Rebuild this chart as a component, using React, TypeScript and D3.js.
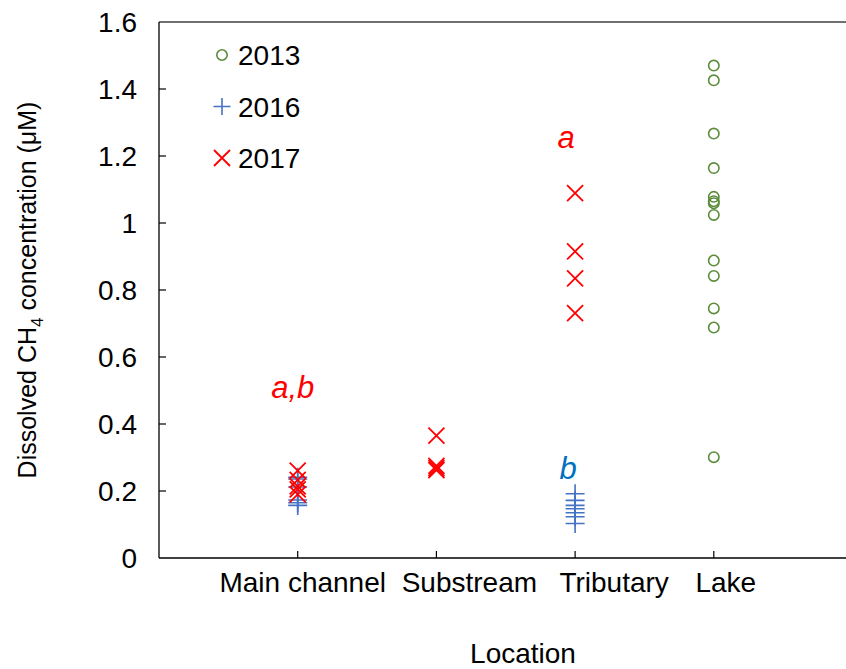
import React from "react";
import * as d3 from "d3";

// Location categories along the x axis
const locations = ["Main channel", "Substream", "Tributary", "Lake"];

// Dissolved CH4 (µM) per survey year and location
const y2013Lake = [1.47, 1.426, 1.267, 1.164, 1.078, 1.065, 1.059, 1.024, 0.888, 0.842, 0.745, 0.688, 0.301];
const y2016Main = [0.241, 0.236, 0.212, 0.173, 0.165, 0.157];
const y2016Tributary = [0.192, 0.172, 0.157, 0.147, 0.135, 0.123, 0.103];
const y2017Main = [0.261, 0.233, 0.214, 0.205, 0.19];
const y2017Substream = [0.365, 0.275, 0.268, 0.262];
const y2017Tributary = [1.089, 0.915, 0.835, 0.731];

const yTicks = [0, 0.2, 0.4, 0.6, 0.8, 1, 1.2, 1.4, 1.6];
const legendYears = ["2013", "2016", "2017"];

const GREEN = "#5B8C3A";
const BLUE = "#4472C4";
const RED = "#FF0000";
const FONT = "'Liberation Sans', Arial, sans-serif";

const W = 846;
const H = 669;

// horizontal nudges of the category labels relative to their tick
const labelShift = [5, 33, 39, 12];

export default function App() {
  const x = d3.scaleLinear().domain([0, 5]).range([159, 852.5]);
  const y = d3.scaleLinear().domain([0, 1.6]).range([558, 22]);

  const circle = (cx: number, cy: number, key: string) => (
    <circle key={key} cx={cx} cy={cy} r={5.2} fill="none" stroke={GREEN} strokeWidth={1.6} />
  );
  const plus = (cx: number, cy: number, key: string, s = 9.5) => (
    <path key={key} d={`M${cx - s},${cy}H${cx + s}M${cx},${cy - s}V${cy + s}`} stroke={BLUE} strokeWidth={1.6} fill="none" />
  );
  const cross = (cx: number, cy: number, key: string, s = 8) => (
    <path key={key} d={`M${cx - s},${cy - s}L${cx + s},${cy + s}M${cx + s},${cy - s}L${cx - s},${cy + s}`} stroke={RED} strokeWidth={1.8} fill="none" />
  );

  const x0 = x(0);
  const xEnd = x(5);

  return (
    <svg width={W} height={H} style={{ position: "absolute", left: 0, top: 0, background: "#fff" }} fontFamily={FONT}>
      {/* frame: left axis, bottom axis, top border */}
      <line x1={x0} x2={xEnd} y1={y(1.6)} y2={y(1.6)} stroke="#404040" strokeWidth={1.5} />
      <line x1={x0} x2={xEnd} y1={y(0)} y2={y(0)} stroke="#000" strokeWidth={1.5} />
      <line x1={x0} x2={x0} y1={y(0)} y2={y(1.6)} stroke="#000" strokeWidth={1.3} />

      {/* y ticks (inward) and labels */}
      {yTicks.map((t) => (
        <g key={t}>
          {t > 0 && t < 1.6 && <line x1={x0} x2={x0 + 7} y1={y(t)} y2={y(t)} stroke="#000" strokeWidth={1.2} />}
          <text x={137} y={y(t)} dy="0.36em" textAnchor="end" fontSize={28} fill="#000">
            {d3.format("~g")(t)}
          </text>
        </g>
      ))}

      {/* x ticks (inward) and category labels */}
      {locations.map((loc, i) => (
        <g key={loc}>
          <line x1={x(i + 1)} x2={x(i + 1)} y1={y(0)} y2={y(0) - 7} stroke="#000" strokeWidth={1.2} />
          <text x={x(i + 1) + labelShift[i]} y={592} textAnchor="middle" fontSize={28} fill="#000">
            {loc}
          </text>
        </g>
      ))}

      {/* axis titles */}
      <text x={523} y={663} textAnchor="middle" fontSize={28} fill="#000">
        Location
      </text>
      <text transform={`translate(36,${290}) rotate(-90)`} textAnchor="middle" fontSize={25} fill="#000">
        Dissolved CH<tspan fontSize={17} dy={7}>4</tspan>
        <tspan dy={-7}> concentration (μM)</tspan>
      </text>

      {/* data marks */}
      {y2013Lake.map((v, i) => circle(x(4), y(v), `c${i}`))}
      {y2016Main.map((v, i) => plus(x(1), y(v), `pm${i}`))}
      {y2016Tributary.map((v, i) => plus(x(3), y(v), `pt${i}`))}
      {y2017Main.map((v, i) => cross(x(1), y(v), `xm${i}`))}
      {y2017Substream.map((v, i) => cross(x(2), y(v), `xs${i}`))}
      {y2017Tributary.map((v, i) => cross(x(3), y(v), `xt${i}`))}

      {/* significance letters */}
      <text x={x(1) - 5} y={398} textAnchor="middle" fontSize={31} fontStyle="italic" fill={RED}>
        a,b
      </text>
      <text x={x(3) - 9} y={148} textAnchor="middle" fontSize={31} fontStyle="italic" fill={RED}>
        a
      </text>
      <text x={x(3) - 7} y={479} textAnchor="middle" fontSize={31} fontStyle="italic" fill="#0070C0">
        b
      </text>

      {/* legend */}
      {legendYears.map((yr, i) => {
        const ly = 55 + i * 51.5;
        const lx = 222;
        return (
          <g key={yr}>
            {i === 0 && circle(lx, ly, "lc")}
            {i === 1 && plus(lx, ly, "lp", 8.5)}
            {i === 2 && cross(lx, ly, "lx", 8)}
            <text x={238} y={ly} dy="0.36em" fontSize={28} fill="#000">
              {yr}
            </text>
          </g>
        );
      })}
    </svg>
  );
}
